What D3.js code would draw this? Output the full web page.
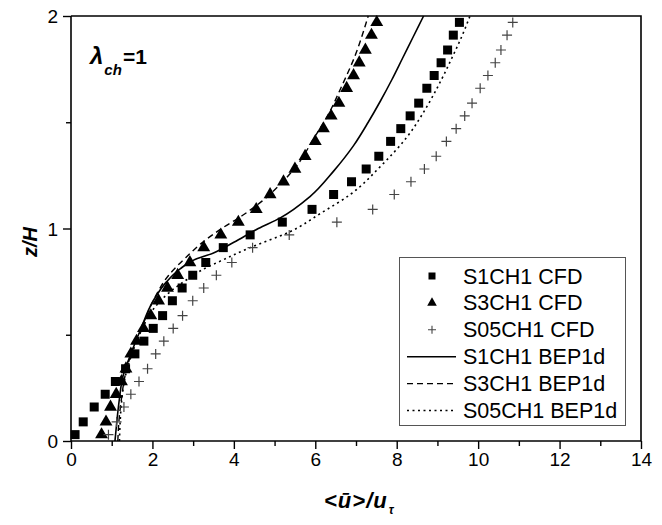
<!DOCTYPE html>
<html><head><meta charset="utf-8">
<script src="https://cdn.jsdelivr.net/npm/d3@7"></script>
<style>
html,body{margin:0;padding:0;background:#fff;}
svg text{font-family:"Liberation Sans",Arial,Helvetica,sans-serif;}
</style>
</head><body>
<svg id="chart" width="662" height="525"></svg>
<script>
// ---- data ----
const zLevels = [0.03,0.09,0.16,0.22,0.28,0.34,0.41,0.47,0.53,0.59,0.66,0.72,0.78,0.84,0.91,0.97,1.03,1.09,1.16,1.22,1.28,1.34,1.41,1.47,1.53,1.59,1.66,1.72,1.78,1.84,1.91,1.97];
const s1CFD  = [0.10,0.30,0.57,0.84,1.09,1.34,1.57,1.79,2.02,2.25,2.49,2.73,2.99,3.31,3.74,4.40,5.19,5.92,6.45,6.89,7.25,7.56,7.85,8.10,8.33,8.54,8.74,8.92,9.09,9.25,9.39,9.54];
const s3CFD  = [0.75,0.86,0.97,1.11,1.24,1.35,1.47,1.61,1.78,1.96,2.15,2.37,2.62,2.92,3.26,3.68,4.11,4.55,4.89,5.22,5.50,5.75,6.00,6.20,6.39,6.58,6.77,6.94,7.08,7.23,7.38,7.51];
const s05CFD = [0.92,1.12,1.30,1.47,1.67,1.88,2.08,2.28,2.51,2.74,2.99,3.26,3.57,3.95,4.46,5.36,6.53,7.41,7.94,8.35,8.68,8.97,9.22,9.46,9.67,9.85,10.05,10.24,10.42,10.56,10.71,10.85];

const s1BEPz  = [0,0.1,0.2,0.3,0.4,0.52,0.66,0.75,0.81,0.85,0.885,0.935,1.0,1.05,1.15,1.27,1.39,1.50,1.60,1.70,1.80,1.90,2.0];
const s1BEPx  = [1.08,1.13,1.19,1.27,1.45,1.70,2.02,2.35,2.68,3.0,3.5,4.0,4.6,5.14,5.87,6.45,6.94,7.30,7.60,7.88,8.14,8.40,8.66];
const s3BEPz  = [0,0.1,0.2,0.3,0.4,0.52,0.66,0.78,0.86,0.93,1.0,1.06,1.13,1.22,1.31,1.42,1.53,1.67,1.80,2.0];
const s3BEPx  = [1.15,1.18,1.24,1.32,1.46,1.71,2.02,2.40,2.80,3.20,3.70,4.20,4.70,5.20,5.60,5.95,6.30,6.65,6.95,7.30];
const s05BEPz = [0,0.1,0.2,0.3,0.4,0.52,0.62,0.70,0.76,0.80,0.86,0.91,0.985,1.07,1.16,1.29,1.43,1.58,1.69,1.80,1.90,2.0];
const s05BEPx = [1.19,1.21,1.25,1.33,1.48,1.73,2.02,2.42,2.85,3.17,3.82,4.40,5.38,6.12,6.86,7.59,8.25,8.76,9.07,9.35,9.59,9.80];

const xMajor = [0,2,4,6,8,10,12,14];
const xMinor = [1,3,5,7,9,11,13];
const yMajor = [0,1,2];
const yMinor = [0.5,1.5];
const legendLabels = ["S1CH1 CFD","S3CH1 CFD","S05CH1 CFD","S1CH1 BEP1d","S3CH1 BEP1d","S05CH1 BEP1d"];

// ---- layout ----
const L = 71, R = 641, T = 16, B = 441;
const svg = d3.select("#chart");
const x = d3.scaleLinear().domain([0,14]).range([L,R]);
const y = d3.scaleLinear().domain([0,2]).range([B,T]);

// frame (top & right)
svg.append("path").attr("d",`M${L},${T}H${R}V${B}`).attr("fill","none").attr("stroke","#000").attr("stroke-width",1.6);

// axes
const axX = svg.append("g").attr("transform",`translate(0,${B})`)
  .call(d3.axisBottom(x).tickValues(xMajor).tickSize(8).tickSizeOuter(0).tickPadding(4).tickFormat(d3.format("d")));
svg.append("g").attr("transform",`translate(0,${B})`)
  .call(d3.axisBottom(x).tickValues(xMinor).tickSize(5).tickSizeOuter(0).tickFormat(""))
  .select(".domain").remove();
const axY = svg.append("g").attr("transform",`translate(${L},0)`)
  .call(d3.axisLeft(y).tickValues(yMajor).tickSize(8).tickSizeOuter(0).tickPadding(5).tickFormat(d3.format("d")));
svg.append("g").attr("transform",`translate(${L},0)`)
  .call(d3.axisLeft(y).tickValues(yMinor).tickSize(5).tickSizeOuter(0).tickFormat(""))
  .select(".domain").remove();
svg.selectAll(".domain").attr("stroke-width",1.6);
svg.selectAll(".tick line").attr("stroke-width",1.4);
axX.selectAll("text").attr("font-size",19).attr("fill","#000");
axY.selectAll("text").attr("font-size",19).attr("fill","#000").attr("dy","0.36em");
axX.selectAll(".domain").attr("d",`M${L},0H${R}`);
axY.selectAll(".domain").attr("d",`M0,${B}V${T}`);

// lines
const line = d3.line().x(d=>x(d[0])).y(d=>y(d[1])).curve(d3.curveMonotoneY);
const lineSeries = [
  {xs:s1BEPx, zs:s1BEPz, dash:null, w:1.6},
  {xs:s3BEPx, zs:s3BEPz, dash:"6,4", w:1.4},
  {xs:s05BEPx, zs:s05BEPz, dash:"2,3.5", w:1.6}
];
const gL = svg.append("g");
lineSeries.forEach(s=>{
  gL.append("path").datum(s.xs.map((v,i)=>[v,s.zs[i]]))
    .attr("d",line).attr("fill","none").attr("stroke","#000")
    .attr("stroke-width",s.w).attr("stroke-dasharray",s.dash);
});

// markers
const gM = svg.append("g");
const sq = 9;
gM.selectAll("rect.s1").data(zLevels.map((z,i)=>[s1CFD[i],z])).join("rect")
  .attr("x",d=>x(d[0])-sq/2).attr("y",d=>y(d[1])-sq/2).attr("width",sq).attr("height",sq).attr("fill","#000");
const tri = d3.symbol().type(d3.symbolTriangle).size(72);
gM.selectAll("path.s3").data(zLevels.map((z,i)=>[s3CFD[i],z])).join("path")
  .attr("d",tri).attr("transform",d=>`translate(${x(d[0])},${y(d[1])})`).attr("fill","#000");
const cr = 5;
gM.selectAll("path.s05").data(zLevels.map((z,i)=>[s05CFD[i],z])).join("path")
  .attr("d",d=>`M${x(d[0])-cr},${y(d[1])}H${x(d[0])+cr}M${x(d[0])},${y(d[1])-cr}V${y(d[1])+cr}`)
  .attr("stroke","#444").attr("stroke-width",1.2).attr("fill","none");

// legend
const lg = svg.append("g");
lg.append("rect").attr("x",399.5).attr("y",257.5).attr("width",226).attr("height",168)
  .attr("fill","#fff").attr("stroke","#555").attr("stroke-width",1);
const base0 = 283.5, step = 26.9;
legendLabels.forEach((t,i)=>{
  const by = base0 + i*step, cy = by - 7.5;
  lg.append("text").attr("x",463).attr("y",by).attr("font-size",21.5).attr("fill","#000").text(t);
  if(i===0) lg.append("rect").attr("x",432-3.5).attr("y",cy-3.5).attr("width",7).attr("height",7).attr("fill","#000");
  if(i===1) lg.append("path").attr("d",d3.symbol().type(d3.symbolTriangle).size(40)).attr("transform",`translate(432,${cy})`).attr("fill","#000");
  if(i===2) lg.append("path").attr("d",`M428,${cy}H436M432,${cy-4}V${cy+4}`).attr("stroke","#444").attr("stroke-width",1.1);
  if(i>=3){
    const s = lineSeries[i-3];
    lg.append("line").attr("x1",407).attr("x2",456).attr("y1",cy).attr("y2",cy)
      .attr("stroke","#000").attr("stroke-width",s.w).attr("stroke-dasharray",s.dash);
  }
});

// lambda label
const lam = svg.append("text").attr("x",90).attr("y",64).attr("font-size",21).attr("font-weight","bold").attr("fill","#000");
lam.append("tspan").attr("font-style","italic").attr("font-size",24).text("λ");
lam.append("tspan").attr("font-style","italic").attr("font-size",15).attr("dy",11).attr("dx",1).text("ch");
lam.append("tspan").attr("dy",-11).attr("dx",1).text("=1");

// axis titles
svg.append("text").attr("transform","translate(37,242) rotate(-90)").attr("text-anchor","middle")
  .attr("font-size",20).attr("font-weight","bold").attr("font-style","italic").attr("fill","#000").text("z/H");
const xt = svg.append("text").attr("x",324).attr("y",508).attr("font-size",22).attr("font-weight","bold").attr("font-style","italic").attr("fill","#000").attr("letter-spacing",1);
xt.append("tspan").text("<ū>/u");
xt.append("tspan").attr("font-size",12).attr("dy",6).attr("dx",1).text("τ");
</script>
</body></html>
